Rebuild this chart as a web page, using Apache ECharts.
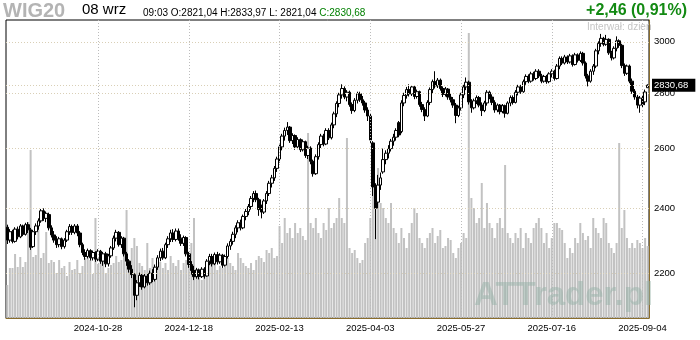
<!DOCTYPE html>
<html>
<head>
<meta charset="utf-8">
<script src="https://cdn.jsdelivr.net/npm/echarts@6/dist/echarts.min.js"></script>
<style>
  html, body { margin: 0; padding: 0; background: #ffffff; }
  #chart { width: 700px; height: 340px; }
</style>
</head>
<body>
<div id="chart"></div>
<script>
// WIG20 daily candles, one year of sessions, with turnover bars behind them.

const firstSession = '2024-09-09';
const lastSession = '2025-09-08';
const exchangeHolidays = [
  '2024-11-01', '2024-11-11', '2024-12-24', '2024-12-25', '2024-12-26', '2024-12-31',
  '2025-01-01', '2025-01-06', '2025-04-18', '2025-04-21', '2025-05-01', '2025-06-19', '2025-08-15'
];
const priceTicks = [2200, 2400, 2600, 2800, 3000];
const dateTicks = ['2024-10-28', '2024-12-18', '2025-02-13', '2025-04-03', '2025-05-27', '2025-07-16', '2025-09-04'];
const lastClose = 2830.68;

// Monthly OHLC rows: [open, close, low, high]
const sep2024 = [
  [2340, 2300, 2288, 2348], [2300, 2326, 2292, 2334], [2326, 2296, 2290, 2332], [2296, 2334, 2292, 2340],
  [2334, 2310, 2302, 2342], [2310, 2344, 2306, 2350], [2344, 2318, 2312, 2348], [2318, 2348, 2314, 2354],
  [2348, 2332, 2322, 2356], [2332, 2278, 2270, 2338], [2280, 2326, 2276, 2332], [2326, 2344, 2316, 2352],
  [2344, 2360, 2332, 2368], [2360, 2392, 2354, 2398], [2392, 2368, 2360, 2400], [2368, 2384, 2356, 2390]
];
const oct2024 = [
  [2380, 2338, 2330, 2386], [2338, 2316, 2308, 2346], [2316, 2300, 2292, 2328], [2300, 2286, 2276, 2312],
  [2286, 2304, 2278, 2310], [2304, 2280, 2272, 2308], [2280, 2300, 2274, 2306], [2300, 2326, 2294, 2332],
  [2326, 2342, 2316, 2350], [2342, 2324, 2316, 2348], [2324, 2344, 2318, 2350], [2344, 2322, 2312, 2350],
  [2322, 2286, 2278, 2328], [2286, 2262, 2254, 2292], [2262, 2250, 2240, 2272], [2250, 2268, 2244, 2274],
  [2268, 2246, 2238, 2272], [2246, 2262, 2238, 2268], [2262, 2242, 2234, 2266], [2242, 2266, 2236, 2272],
  [2266, 2236, 2228, 2270], [2236, 2258, 2222, 2264], [2258, 2228, 2218, 2264]
];
const nov2024 = [
  [2228, 2252, 2220, 2258], [2252, 2276, 2246, 2282], [2276, 2306, 2270, 2314], [2306, 2324, 2296, 2332],
  [2324, 2286, 2280, 2328], [2286, 2306, 2276, 2312], [2306, 2258, 2250, 2310], [2258, 2236, 2222, 2264],
  [2236, 2212, 2202, 2242], [2212, 2196, 2186, 2224], [2196, 2136, 2102, 2200], [2136, 2172, 2122, 2180],
  [2172, 2194, 2160, 2202], [2194, 2160, 2152, 2198], [2160, 2192, 2156, 2198], [2192, 2172, 2164, 2200],
  [2172, 2200, 2166, 2208], [2200, 2182, 2174, 2212], [2182, 2218, 2176, 2226]
];
const dec2024 = [
  [2218, 2246, 2210, 2254], [2246, 2266, 2236, 2274], [2266, 2246, 2240, 2276], [2246, 2286, 2242, 2292],
  [2286, 2304, 2276, 2312], [2304, 2322, 2294, 2332], [2322, 2302, 2294, 2334], [2302, 2328, 2296, 2336],
  [2328, 2306, 2298, 2336], [2306, 2290, 2282, 2318], [2290, 2308, 2282, 2314], [2308, 2258, 2250, 2312],
  [2258, 2226, 2216, 2264], [2226, 2208, 2196, 2236], [2208, 2190, 2180, 2222], [2190, 2210, 2184, 2216],
  [2210, 2190, 2182, 2214], [2190, 2212, 2186, 2218]
];
const jan2025 = [
  [2212, 2192, 2184, 2218], [2192, 2236, 2190, 2242], [2236, 2250, 2224, 2258], [2250, 2228, 2220, 2258],
  [2228, 2256, 2224, 2262], [2256, 2234, 2226, 2264], [2234, 2254, 2228, 2260], [2254, 2224, 2216, 2258],
  [2224, 2250, 2220, 2256], [2250, 2282, 2244, 2290], [2282, 2296, 2270, 2304], [2296, 2318, 2286, 2326],
  [2318, 2338, 2306, 2346], [2338, 2354, 2324, 2362], [2354, 2338, 2330, 2364], [2338, 2374, 2334, 2380],
  [2374, 2390, 2362, 2398], [2390, 2406, 2378, 2414], [2406, 2432, 2396, 2440], [2432, 2448, 2420, 2456],
  [2448, 2428, 2420, 2458]
];
const feb2025 = [
  [2428, 2396, 2376, 2434], [2396, 2388, 2368, 2412], [2388, 2424, 2382, 2430], [2424, 2448, 2414, 2456],
  [2448, 2482, 2440, 2490], [2482, 2500, 2468, 2510], [2500, 2532, 2490, 2540], [2532, 2564, 2520, 2572],
  [2564, 2606, 2552, 2614], [2606, 2644, 2594, 2652], [2644, 2664, 2628, 2674], [2664, 2676, 2648, 2694],
  [2676, 2628, 2620, 2680], [2628, 2646, 2616, 2654], [2646, 2606, 2596, 2650], [2606, 2632, 2598, 2640],
  [2632, 2596, 2588, 2636], [2596, 2624, 2590, 2632], [2624, 2576, 2568, 2628], [2576, 2602, 2564, 2610]
];
const mar2025 = [
  [2602, 2556, 2546, 2608], [2556, 2514, 2504, 2562], [2514, 2572, 2510, 2580], [2572, 2614, 2562, 2622],
  [2614, 2644, 2602, 2652], [2644, 2616, 2608, 2652], [2616, 2664, 2612, 2672], [2664, 2638, 2630, 2672],
  [2638, 2684, 2632, 2692], [2684, 2724, 2672, 2732], [2724, 2762, 2712, 2770], [2762, 2794, 2748, 2802],
  [2794, 2818, 2780, 2834], [2818, 2786, 2778, 2826], [2786, 2804, 2770, 2812], [2804, 2758, 2750, 2810],
  [2758, 2736, 2724, 2766], [2736, 2774, 2730, 2782], [2774, 2798, 2762, 2806], [2798, 2776, 2768, 2806],
  [2776, 2764, 2754, 2790]
];
const apr2025 = [
  [2764, 2738, 2728, 2772], [2738, 2716, 2698, 2748], [2716, 2630, 2618, 2724], [2620, 2470, 2440, 2626],
  [2470, 2400, 2303, 2482], [2420, 2476, 2400, 2510], [2476, 2500, 2460, 2518], [2520, 2562, 2514, 2600],
  [2562, 2584, 2546, 2594], [2584, 2600, 2566, 2612], [2600, 2626, 2590, 2634], [2626, 2640, 2610, 2652],
  [2640, 2664, 2628, 2672], [2692, 2648, 2640, 2698], [2660, 2764, 2654, 2774], [2764, 2792, 2752, 2802],
  [2792, 2814, 2780, 2824], [2814, 2798, 2788, 2834], [2798, 2824, 2790, 2830], [2824, 2788, 2778, 2828]
];
const may2025 = [
  [2788, 2806, 2780, 2814], [2806, 2758, 2750, 2810], [2758, 2740, 2730, 2768], [2740, 2716, 2698, 2748],
  [2716, 2766, 2712, 2774], [2766, 2814, 2756, 2822], [2814, 2844, 2800, 2852], [2844, 2828, 2818, 2884],
  [2828, 2850, 2820, 2858], [2850, 2818, 2810, 2856], [2818, 2796, 2786, 2826], [2796, 2816, 2788, 2824],
  [2816, 2786, 2776, 2820], [2786, 2776, 2766, 2800], [2776, 2756, 2746, 2786], [2756, 2718, 2690, 2764],
  [2718, 2746, 2712, 2754], [2746, 2794, 2736, 2802], [2794, 2824, 2782, 2832], [2824, 2842, 2812, 2860],
  [2842, 2768, 2758, 2848]
];
const jun2025 = [
  [2768, 2746, 2728, 2778], [2746, 2772, 2740, 2780], [2772, 2784, 2760, 2792], [2784, 2756, 2748, 2790],
  [2756, 2736, 2716, 2766], [2736, 2764, 2730, 2772], [2764, 2804, 2754, 2812], [2804, 2786, 2778, 2810],
  [2786, 2766, 2756, 2796], [2766, 2738, 2728, 2774], [2738, 2756, 2730, 2762], [2756, 2732, 2722, 2760],
  [2732, 2754, 2726, 2760], [2754, 2726, 2710, 2758], [2726, 2764, 2722, 2770], [2764, 2784, 2752, 2792],
  [2784, 2766, 2758, 2792], [2766, 2804, 2762, 2812], [2804, 2824, 2792, 2832], [2824, 2806, 2798, 2832]
];
const jul2025 = [
  [2806, 2844, 2802, 2852], [2844, 2864, 2832, 2872], [2864, 2846, 2838, 2872], [2846, 2874, 2840, 2882],
  [2874, 2856, 2848, 2882], [2856, 2884, 2850, 2892], [2884, 2866, 2858, 2892], [2866, 2846, 2838, 2874],
  [2846, 2864, 2840, 2870], [2864, 2844, 2836, 2870], [2844, 2874, 2838, 2880], [2874, 2884, 2860, 2892],
  [2884, 2856, 2848, 2890], [2856, 2904, 2852, 2912], [2904, 2934, 2892, 2942], [2934, 2916, 2908, 2942],
  [2916, 2940, 2910, 2948], [2940, 2920, 2912, 2946], [2920, 2944, 2914, 2952], [2944, 2910, 2902, 2950],
  [2910, 2948, 2906, 2956], [2948, 2926, 2918, 2954], [2926, 2954, 2920, 2962]
];
const aug2025 = [
  [2954, 2916, 2906, 2960], [2916, 2866, 2856, 2922], [2866, 2846, 2826, 2874], [2846, 2884, 2840, 2892],
  [2884, 2904, 2870, 2912], [2904, 2964, 2896, 2972], [2964, 2994, 2950, 3002], [2994, 3014, 2980, 3032],
  [3014, 2990, 2982, 3020], [2990, 3010, 2984, 3028], [3010, 2956, 2948, 3014], [2956, 2936, 2926, 2964],
  [2936, 2974, 2930, 2982], [2974, 3004, 2962, 3022], [3004, 2986, 2976, 3010], [2986, 2906, 2896, 2992],
  [2906, 2876, 2866, 2914], [2876, 2904, 2870, 2910], [2904, 2846, 2838, 2910], [2846, 2808, 2798, 2856]
];
const sep2025 = [
  [2808, 2786, 2776, 2816], [2786, 2756, 2744, 2794], [2756, 2782, 2728, 2790], [2782, 2758, 2748, 2790],
  [2768, 2805, 2756, 2814], [2821.04, 2830.68, 2821.04, 2833.97]
];

// Session turnover per month (relative units)
const volSep2024 = [33, 50, 50, 64, 51, 61, 51, 56, 96, 168, 61, 63, 88, 60, 65, 86];
const volOct2024 = [55, 58, 56, 45, 58, 50, 52, 42, 56, 48, 49, 58, 45, 52, 60, 62, 58, 44, 100, 54, 60, 58, 45];
const volNov2024 = [50, 53, 55, 62, 56, 58, 68, 108, 58, 70, 80, 72, 55, 52, 48, 75, 50, 60, 48];
const volDec2024 = [55, 56, 50, 55, 48, 62, 55, 52, 58, 48, 55, 58, 60, 75, 100, 48, 40, 38];
const volJan2025 = [50, 52, 55, 58, 55, 48, 52, 50, 54, 60, 55, 52, 48, 65, 60, 55, 52, 50, 55, 48, 58];
const volFeb2025 = [62, 60, 56, 68, 65, 70, 60, 62, 92, 75, 100, 85, 90, 80, 95, 85, 90, 82, 78, 185];
const volMar2025 = [95, 90, 100, 85, 80, 95, 88, 110, 90, 95, 100, 120, 100, 95, 180, 70, 65, 68, 60, 55, 58];
const volApr2025 = [75, 80, 100, 140, 130, 150, 115, 110, 100, 95, 115, 90, 85, 75, 90, 80, 70, 85, 95, 110];
const volMay2025 = [105, 80, 75, 70, 80, 85, 90, 75, 82, 88, 70, 72, 80, 78, 65, 60, 70, 75, 85, 80, 285];
const volJun2025 = [120, 110, 95, 100, 135, 90, 115, 95, 90, 80, 95, 100, 90, 153, 85, 80, 75, 85, 80, 90];
const volJul2025 = [70, 85, 80, 75, 90, 95, 100, 90, 75, 85, 70, 80, 95, 95, 90, 88, 75, 60, 70, 65, 80, 75, 95];
const volAug2025 = [85, 78, 82, 70, 100, 90, 85, 80, 100, 95, 75, 70, 65, 75, 175, 90, 108, 80, 70, 75];
const volSep2025 = [70, 78, 75, 70, 80, 72];

// Warsaw exchange sessions between two dates (weekdays minus holidays)
function sessions(from, to, holidays) {
  const out = [];
  const d = new Date(from + 'T00:00:00Z');
  const end = new Date(to + 'T00:00:00Z');
  while (d <= end) {
    const wd = d.getUTCDay();
    const iso = d.toISOString().slice(0, 10);
    if (wd !== 0 && wd !== 6 && holidays.indexOf(iso) < 0) out.push(iso);
    d.setUTCDate(d.getUTCDate() + 1);
  }
  return out;
}

const dates = sessions(firstSession, lastSession, exchangeHolidays);
const candles = [].concat(sep2024, oct2024, nov2024, dec2024, jan2025, feb2025, mar2025,
  apr2025, may2025, jun2025, jul2025, aug2025, sep2025);
const turnover = [].concat(volSep2024, volOct2024, volNov2024, volDec2024, volJan2025, volFeb2025,
  volMar2025, volApr2025, volMay2025, volJun2025, volJul2025, volAug2025, volSep2025);

const FONT = '"Liberation Sans", Arial, sans-serif';
const BROWN = '#8a6d2c';
const tickIdx = new Set(dateTicks.map(d => dates.indexOf(d)));

const hLines = priceTicks.map(v => ({
  yAxis: v,
  lineStyle: { color: '#d9cfb6', type: [1, 2], width: 1 },
  label: { show: true, position: 'end', distance: 5, formatter: String(v),
           color: '#000', fontSize: 9.5, fontFamily: FONT }
}));
const vLines = dateTicks.map(d => ({
  xAxis: d,
  lineStyle: { color: '#bcbcbc', type: [1, 2], width: 1 },
  label: { show: false }
}));
const lastLine = {
  yAxis: lastClose,
  lineStyle: { color: '#d9cfb6', type: [1, 2], width: 1 },
  label: { show: true, position: 'end', distance: 3, formatter: lastClose.toFixed(2).replace('.', ','),
           color: '#fff', backgroundColor: '#000', padding: [2, 7, 1, 2],
           fontSize: 9.5, fontFamily: FONT }
};

const chart = echarts.init(document.getElementById('chart'), null, { renderer: 'canvas' });
chart.setOption({
  animation: false,
  backgroundColor: '#ffffff',
  grid: { left: 6, right: 51, top: 20, bottom: 22, show: true, borderColor: '#000', borderWidth: 1 },
  xAxis: {
    type: 'category',
    data: dates,
    boundaryGap: true,
    axisLine: { show: true, lineStyle: { color: BROWN, width: 1 } },
    axisTick: { show: false },
    splitLine: { show: false },
    axisLabel: {
      interval: (i) => tickIdx.has(i),
      color: '#000', fontSize: 9.5, fontFamily: FONT, margin: 5
    }
  },
  yAxis: [
    {
      type: 'log', logBase: 10, position: 'right',
      min: 2072, max: 3089,
      axisLine: { show: true, lineStyle: { color: BROWN, width: 1 } },
      axisTick: { show: false }, axisLabel: { show: false }, splitLine: { show: false }
    },
    {
      type: 'value', min: 0, max: 298, show: false,
      splitLine: { show: false }
    }
  ],
  series: [
    {
      type: 'bar',
      name: 'turnover',
      yAxisIndex: 1,
      data: turnover,
      barWidth: 2,
      itemStyle: { color: '#c2c2c2' },
      silent: true,
      z: 1
    },
    {
      type: 'candlestick',
      name: 'WIG20',
      yAxisIndex: 0,
      data: candles,
      barWidth: 3,
      itemStyle: { color: '#ffffff', color0: '#000000', borderColor: '#000000', borderColor0: '#000000', borderWidth: 1 },
      silent: true,
      z: 3,
      markLine: {
        silent: true, symbol: 'none', animation: false,
        data: [].concat(vLines, hLines, [lastLine])
      }
    }
  ],
  graphic: [
    { type: 'text', left: 3, top: 1, style: { text: 'WIG20', font: 'bold 20px ' + FONT, fill: '#b4b4b4' } },
    { type: 'text', left: 82, top: 2, style: { text: '08 wrz', font: '15px ' + FONT, fill: '#000' } },
    { type: 'text', left: 143, top: 8, style: {
        text: '{a|09:03 O:2821,04 H:2833,97 L: 2821,04 }{g|C:2830,68}',
        rich: { a: { font: '10px ' + FONT, fill: '#000' }, g: { font: '10px ' + FONT, fill: '#008000' } } } },
    { type: 'text', right: 13, top: 3, style: { text: '+2,46 (0,91%)', font: 'bold 16px ' + FONT, fill: '#138a13' } },
    { type: 'text', left: 587, top: 22, style: { text: 'Interwał: dzień', font: '10px ' + FONT, fill: '#c4c4c4' } },
    { type: 'text', left: 474, top: 279, z: 50, style: { text: 'ATTrader.pl', font: 'bold 33px ' + FONT, fill: 'rgba(150,178,168,0.5)' } }
  ]
});
</script>
</body>
</html>
